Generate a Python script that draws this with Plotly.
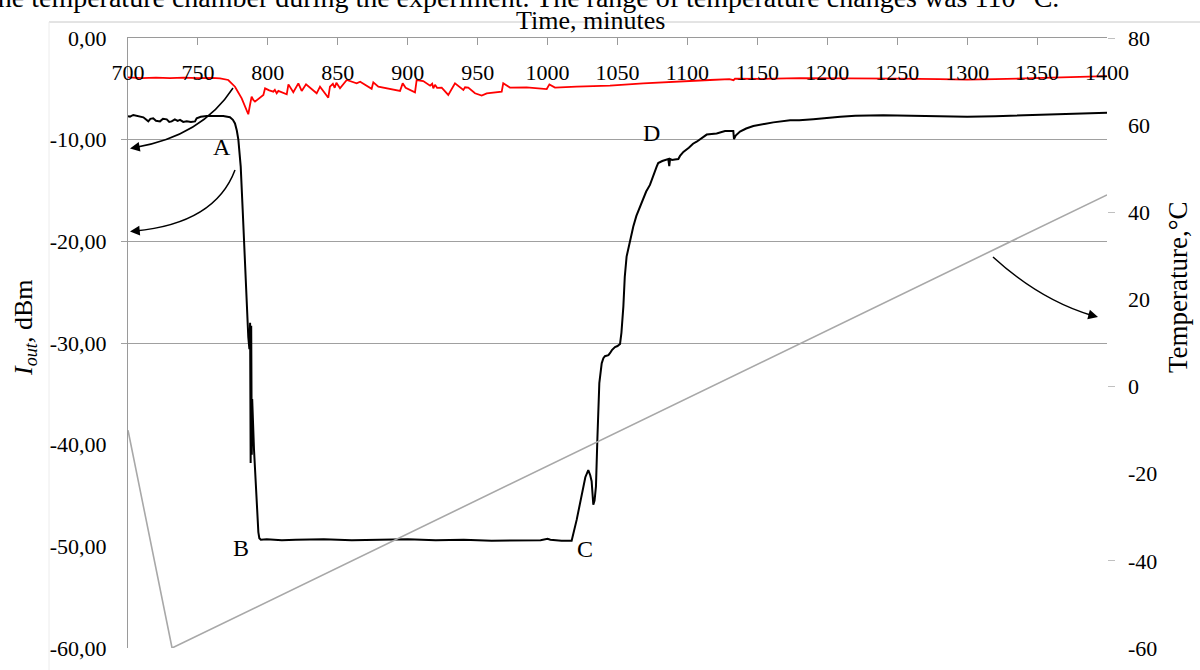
import plotly.graph_objects as go

# ---------------- data ----------------
t_iout = [700, 701.4, 703.8, 707, 711, 714.5, 716, 718, 720, 722.9, 725, 727.7, 729.5, 731.2, 733.5,
          735.5, 737.2, 739.5, 742, 745, 747.9, 749.1, 752, 756.3, 762, 768.1, 772.9, 775, 776.5,
          777.8, 778.9, 780.0, 780.6, 782.0, 783.2, 784.9, 786.0, 786.8, 787.3, 787.7, 788.1, 788.5,
          788.8, 790.1, 792.0, 793.2, 793.9, 795, 799.2, 810, 820, 840, 860, 880, 900, 920, 940, 960,
          980, 995, 1000, 1002, 1010, 1017.2, 1020.8, 1024.4, 1027, 1029.1, 1030.5, 1031.5, 1032.7,
          1033.6, 1034.6, 1035.6, 1037.0, 1038.7, 1039.9, 1041, 1043.5, 1044.6, 1046, 1048.2, 1050,
          1051.8, 1052.8, 1054.2, 1055.2, 1056.5, 1058.9, 1061.3, 1063.5, 1066.0, 1068, 1070.5,
          1073.2, 1075.5, 1078.0, 1079.1, 1082, 1086.3, 1087.0, 1087.6, 1089, 1091, 1093.5, 1094.7,
          1097.1, 1101, 1104, 1106.6, 1110, 1112.6, 1113.8, 1120.9, 1124, 1126.9, 1132.8, 1133.3,
          1134.5, 1137.6, 1142, 1147.1, 1155, 1161.4, 1173.4, 1180, 1190, 1200, 1209.3, 1220, 1240,
          1260, 1280, 1300, 1320, 1340, 1360, 1380, 1400]
iout = [-7.7, -7.73, -7.57, -7.7, -7.8, -8.2, -7.95, -7.9, -8.15, -8.2, -7.95, -8.0, -8.25, -8.2, -8.0,
        -8.15, -8.06, -8.25, -8.2, -8.25, -8.2, -7.9, -7.75, -7.67, -7.65, -7.67, -7.8, -8.05, -8.4,
        -9.1, -10.0, -11.5, -12.65, -16.9, -21.0, -27.4, -29.4, -30.6, -28.0, -41.8, -28.3, -41.0,
        -35.5, -40.5, -46.4, -48.6, -49.2, -49.35, -49.3, -49.4, -49.35, -49.3, -49.4, -49.35, -49.3,
        -49.4, -49.35, -49.45, -49.45, -49.4, -49.25, -49.35, -49.45, -49.45, -47.4, -44.8, -43.2,
        -42.5, -43.0, -43.6, -45.9, -45.5, -44.1, -39.5, -33.95, -32.0, -31.5, -31.3, -31.2, -31.0,
        -30.7, -30.4, -30.3, -30.1, -29.0, -26.4, -23.5, -21.5, -19.9, -18.55, -17.5, -16.6, -15.9,
        -15.1, -14.45, -13.5, -12.65, -12.3, -12.1, -11.9, -12.6, -11.9, -12.0, -11.95, -11.9, -11.6,
        -11.2, -10.8, -10.4, -10.2, -9.9, -9.6, -9.5, -9.4, -9.3, -9.15, -9.15, -9.95,
        -9.6, -9.2, -8.9, -8.65, -8.45, -8.3, -8.1, -8.1, -8.0, -7.85, -7.75, -7.65, -7.6,
        -7.65, -7.7, -7.75, -7.7, -7.6, -7.5, -7.4, -7.35]

t_ref = [700, 710, 720, 730, 740, 750, 760, 765.8, 771.7, 776.5, 781.3, 784.9, 786.0, 787.2, 788.4,
         789.6, 790.8, 796.8, 798.0, 801, 803.9, 805, 806.3, 807.5, 813.5, 814.7, 818.2, 821.8, 824.2,
         827.3, 834.9, 837.3, 843.2, 844.4, 846.5, 847.8, 849, 851.6, 856.4, 863.5, 866, 874.2, 875.4,
         879, 894.5, 896.4, 898.5, 905.2, 906.4, 911.1, 916, 917.5, 918.3, 919.5, 921, 924.3, 929,
         933.8, 939.8, 941, 943.3, 948.1, 952.9, 956.5, 967.2, 968.3, 973.1, 985, 999.4, 1001.3,
         1005.3, 1020.8, 1044.6, 1068.4, 1087.5, 1116.1, 1130, 1133, 1134, 1151.9, 1180, 1210, 1250,
         1280, 1300, 1320, 1350, 1380, 1400]
ref = [-3.87, -3.95, -3.9, -3.95, -3.9, -3.95, -3.92, -3.97, -4.13, -4.79, -5.93, -7.25, -7.5, -6.6,
       -5.77, -6.1, -6.26, -5.6, -4.95, -5.15, -5.28, -5.1, -5.44, -5.2, -5.54, -4.56, -5.34, -4.46,
       -5.21, -4.56, -5.44, -4.79, -5.87, -4.79, -4.5, -4.9, -4.4, -4.95, -4.13, -4.46, -4.3, -5.0,
       -4.36, -4.79, -5.21, -4.46, -4.9, -5.34, -4.13, -4.23, -4.69, -4.5, -4.95, -4.6, -4.9, -4.88,
       -5.6, -4.46, -5.11, -4.85, -4.88, -5.44, -5.67, -5.44, -5.28, -4.46, -4.88, -4.85, -5.02,
       -4.56, -4.88, -4.79, -4.69, -4.46, -4.3, -4.13, -4.05, -4.15, -4.0, -4.03, -3.95, -3.95, -4.0,
       -4.05, -4.1, -4.05, -3.95, -3.85, -3.75]

t_temp = [700, 731.5, 1400]
temp = [-10, -60, 44]

x_ticks = list(range(700, 1401, 50))
y_left_ticks = [0, -10, -20, -30, -40, -50, -60]
y_left_grid = [-10, -20, -30]
y_right_ticks = [80, 60, 40, 20, 0, -20, -40, -60]
y_right_marks = [80, 40, 0, -40]
point_labels = ["A", "B", "C", "D"]
point_t = [767.2, 780.8, 1026.7, 1074.3]
point_v = [-10.7, -50.2, -50.3, -9.3]

# ---------------- geometry helpers (plot area in px) ----------------
W, H = 1200, 670
L, R, T, B = 128, 93, 38, 22
X0, X1 = 700, 1400
Y0, Y1 = -60, 0
pw, ph = W - L - R, H - T - B


def to_data(px, py):
    return X0 + (px - L) / pw * (X1 - X0), Y1 - (py - T) / ph * (Y1 - Y0)


def to_paper(px, py):
    return (px - L) / pw, (H - B - py) / ph


FONT = "Liberation Serif"
fig = go.Figure()

fig.add_trace(go.Scatter(x=t_temp, y=temp, yaxis="y2", mode="lines",
                         line=dict(color="#a8a8a8", width=1.6), hoverinfo="skip"))
fig.add_trace(go.Scatter(x=t_ref, y=ref, mode="lines",
                         line=dict(color="#ff0000", width=1.8), hoverinfo="skip"))
fig.add_trace(go.Scatter(x=t_iout, y=iout, mode="lines",
                         line=dict(color="#000000", width=2), hoverinfo="skip"))
# helper traces so the decoration axes render
fig.add_trace(go.Scatter(x=[None], y=[None], yaxis="y3", showlegend=False))
fig.add_trace(go.Scatter(x=[None], y=[None], yaxis="y4", showlegend=False))
fig.add_trace(go.Scatter(x=[None], y=[None], xaxis="x2", showlegend=False))

label_axis_pos = to_paper(0, 84)[1]

fig.update_layout(
    width=W, height=H,
    margin=dict(l=L, r=R, t=T, b=B, autoexpand=False),
    plot_bgcolor="white", paper_bgcolor="white",
    showlegend=False,
    font=dict(family=FONT, size=22, color="black"),
    xaxis=dict(range=[X0, X1], side="top", tickvals=x_ticks, showticklabels=False,
               ticks="inside", ticklen=7, tickcolor="#9a9a9a", showline=True, linecolor="#9a9a9a",
               linewidth=1, showgrid=False, zeroline=False, automargin=False),
    xaxis2=dict(range=[X0, X1], overlaying="x", anchor="free", position=label_axis_pos,
                side="top", tickvals=x_ticks, ticktext=[str(v) for v in x_ticks], ticks="",
                showline=False, showgrid=False, zeroline=False, automargin=False,
                tickfont=dict(size=22)),
    yaxis=dict(range=[Y0, Y1], tickvals=y_left_ticks,
               ticktext=[f"{v:.2f}".replace(".", ",") for v in y_left_ticks],
               showgrid=False, showline=True, linecolor="#9a9a9a", linewidth=1, ticks="",
               zeroline=False, ticklabelstandoff=16, tickfont=dict(size=22), automargin=False),
    yaxis2=dict(range=[-60, 80], overlaying="y", side="right", tickvals=y_right_ticks,
                ticktext=[str(v) for v in y_right_ticks], showgrid=False, showline=False,
                zeroline=False, ticks="", ticklabelstandoff=20, tickfont=dict(size=22),
                automargin=False),
    yaxis3=dict(range=[Y0, Y1], overlaying="y", side="left", tickvals=y_left_grid,
                showgrid=True, gridcolor="#a0a0a0", gridwidth=1, ticks="outside", ticklen=6,
                tickcolor="#a0a0a0", showticklabels=False, showline=False, zeroline=False,
                automargin=False),
    yaxis4=dict(range=[-60, 80], overlaying="y", side="right", tickvals=y_right_marks,
                ticks="outside", ticklen=7, tickcolor="#c0c0c0", showticklabels=False,
                showgrid=False, showline=False, zeroline=False, automargin=False),
)

ann = []
# axis titles
xp, yp = to_paper(590, 21)
ann.append(dict(text="Time, minutes", x=xp, y=yp, xref="paper", yref="paper", showarrow=False,
                xanchor="center", yanchor="middle", font=dict(size=26, family=FONT)))
xp, yp = to_paper(25, 328)
ann.append(dict(text="<i>I<sub>out</sub>,</i> dBm", x=xp, y=yp, xref="paper", yref="paper",
                xanchor="center", yanchor="middle",
                showarrow=False, textangle=-90, font=dict(size=26, family=FONT)))
xp, yp = to_paper(1178, 287)
ann.append(dict(text="Temperature,°C", x=xp, y=yp, xref="paper", yref="paper",
                xanchor="center", yanchor="middle",
                showarrow=False, textangle=-90, font=dict(size=27, family=FONT)))
# cropped caption at very top
xp, yp = to_paper(-12, -2)
ann.append(dict(text="the temperature chamber during the experiment. The range of temperature changes was 110 °C.",
                x=xp, y=yp, xref="paper", yref="paper", xanchor="left", yanchor="middle",
                showarrow=False, font=dict(size=28, family=FONT)))
# point labels
for lab, tx, vy in zip(point_labels, point_t, point_v):
    ann.append(dict(text=lab, x=tx, y=vy, xref="x", yref="y", showarrow=False,
                    xanchor="center", yanchor="middle", font=dict(size=24, family=FONT)))

# curved arrows (pixel geometry -> data coords)
arrows = [
    ((233, 88), (202, 136), (135, 147.5), (130, 148.5), (11, -2)),
    ((235, 170), (215, 223.5), (135, 231), (130, 231.5), (11, -1)),
    ((993, 257), (1040, 300), (1092, 315.5), (1098, 317), (-11, -3)),
]
shapes = []
for p0, c, p2, tip, off in arrows:
    a = to_data(*p0)
    b = to_data(*c)
    d = to_data(*p2)
    shapes.append(dict(type="path", xref="x", yref="y",
                       path=f"M {a[0]},{a[1]} Q {b[0]},{b[1]} {d[0]},{d[1]}",
                       line=dict(color="black", width=1.5)))
    tx, ty = to_data(*tip)
    ann.append(dict(text="", x=tx, y=ty, xref="x", yref="y", ax=off[0], ay=off[1],
                    showarrow=True, arrowhead=2, arrowsize=1.3, arrowwidth=1.5,
                    arrowcolor="black", standoff=0))

# faint outer chart border
bx0, by0 = to_paper(49, 22)
bx1, by1 = to_paper(1200, 670)
shapes.append(dict(type="line", xref="paper", yref="paper", x0=bx0, y0=by0, x1=bx1, y1=by0,
                   line=dict(color="#c8c8c8", width=1), layer="below"))
shapes.append(dict(type="line", xref="paper", yref="paper", x0=bx0, y0=by0, x1=bx0, y1=by1,
                   line=dict(color="#ececec", width=1), layer="below"))

fig.update_layout(annotations=ann, shapes=shapes)
fig.write_html("out.html", config={"displayModeBar": False},
               post_script="document.body.style.margin='0';document.body.style.overflow='hidden';")
